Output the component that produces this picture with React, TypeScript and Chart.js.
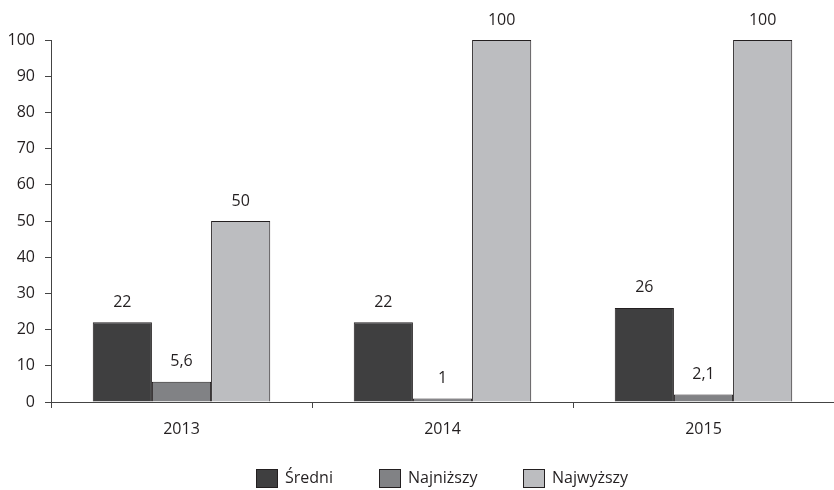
import React, { useEffect, useRef } from "react";
import { Chart, registerables } from "chart.js";

Chart.register(...registerables);

const years = ["2013", "2014", "2015"];
const sredni = [22, 22, 26];
const najnizszy = [5.6, 1, 2.1];
const najwyzszy = [50, 100, 100];
const yTicks = [0, 10, 20, 30, 40, 50, 60, 70, 80, 90, 100];

const FONT = "'Open Sans', 'Noto Sans', sans-serif";
const FONT_SIZE = 16;
const INK = "#231f20";
const AXIS = "#444";

// Numbers above each bar, written with a decimal comma.
const valueLabels = {
  id: "valueLabels",
  afterDatasetsDraw(chart: any) {
    const ctx = chart.ctx;
    ctx.save();
    ctx.font = `${FONT_SIZE}px ${FONT}`;
    ctx.fillStyle = INK;
    ctx.textAlign = "center";
    ctx.textBaseline = "bottom";
    chart.data.datasets.forEach((ds: any, i: number) => {
      const meta = chart.getDatasetMeta(i);
      meta.data.forEach((bar: any, j: number) => {
        const v = ds.data[j];
        ctx.fillText(String(v).replace(".", ","), bar.x, bar.y - 12);
      });
    });
    ctx.restore();
  },
};

// Legend row along the bottom, centred under the plot area.
const bottomLegend = {
  id: "bottomLegend",
  afterDraw(chart: any) {
    const ctx = chart.ctx;
    const boxW = 22;
    const boxH = 19;
    const textGap = 7;
    const itemGap = 46;
    ctx.save();
    ctx.font = `${FONT_SIZE}px ${FONT}`;
    const items = chart.data.datasets.map((ds: any) => ({
      label: ds.label,
      color: ds.backgroundColor,
      w: boxW + textGap + ctx.measureText(ds.label).width,
    }));
    const total =
      items.reduce((s: number, it: any) => s + it.w, 0) +
      itemGap * (items.length - 1);
    const area = chart.chartArea;
    let x = Math.round((area.left + area.right) / 2 - total / 2);
    const cy = chart.height - 11.5;
    items.forEach((it: any) => {
      const bx = Math.round(x);
      ctx.fillStyle = it.color;
      ctx.fillRect(bx, cy - boxH / 2, boxW, boxH);
      ctx.strokeStyle = INK;
      ctx.lineWidth = 1;
      ctx.strokeRect(bx + 0.5, cy - boxH / 2 + 0.5, boxW - 1, boxH - 1);
      ctx.fillStyle = INK;
      ctx.textAlign = "left";
      ctx.textBaseline = "middle";
      ctx.fillText(it.label, bx + boxW + textGap, cy);
      x += it.w + itemGap;
    });
    ctx.restore();
  },
};

export default function App() {
  const ref = useRef<HTMLCanvasElement | null>(null);

  useEffect(() => {
    if (!ref.current) return;
    const chart = new Chart(ref.current, {
      type: "bar",
      data: {
        labels: years,
        datasets: [
          {
            label: "Średni",
            data: sredni,
            backgroundColor: "#3f3f40",
            borderColor: INK,
            borderWidth: 1,
          },
          {
            label: "Najniższy",
            data: najnizszy,
            backgroundColor: "#818285",
            borderColor: INK,
            borderWidth: 1,
          },
          {
            label: "Najwyższy",
            data: najwyzszy,
            backgroundColor: "#bcbdc0",
            borderColor: INK,
            borderWidth: 1,
          },
        ],
      },
      plugins: [valueLabels, bottomLegend],
      options: {
        animation: false,
        responsive: false,
        maintainAspectRatio: false,
        layout: { padding: { top: 40, left: 8, right: 0, bottom: 51 } },
        datasets: {
          bar: { categoryPercentage: 0.68, barPercentage: 1 },
        },
        plugins: {
          tooltip: { enabled: false },
          legend: { display: false },
        },
        scales: {
          x: {
            afterFit(axis: any) {
              axis.height = 37;
            },
            grid: {
              drawOnChartArea: false,
              drawTicks: true,
              tickLength: 6,
              color: AXIS,
            },
            border: { display: true, color: AXIS, width: 1 },
            ticks: {
              color: INK,
              padding: 12,
              font: { family: FONT, size: FONT_SIZE },
            },
          },
          y: {
            min: 0,
            max: 100,
            afterFit(axis: any) {
              axis.width = 43;
            },
            afterBuildTicks(axis: any) {
              axis.ticks = yTicks.map((v) => ({ value: v }));
            },
            grid: {
              drawOnChartArea: false,
              drawTicks: true,
              tickLength: 6,
              color: AXIS,
            },
            border: { display: true, color: AXIS, width: 1 },
            ticks: {
              color: INK,
              padding: 10,
              font: { family: FONT, size: FONT_SIZE },
            },
          },
        },
      },
    });
    return () => chart.destroy();
  }, []);

  return (
    <div
      style={{
        position: "fixed",
        left: 0,
        top: 0,
        width: 834,
        height: 490,
        background: "#fff",
      }}
    >
      <canvas ref={ref} width={834} height={490} />
    </div>
  );
}
